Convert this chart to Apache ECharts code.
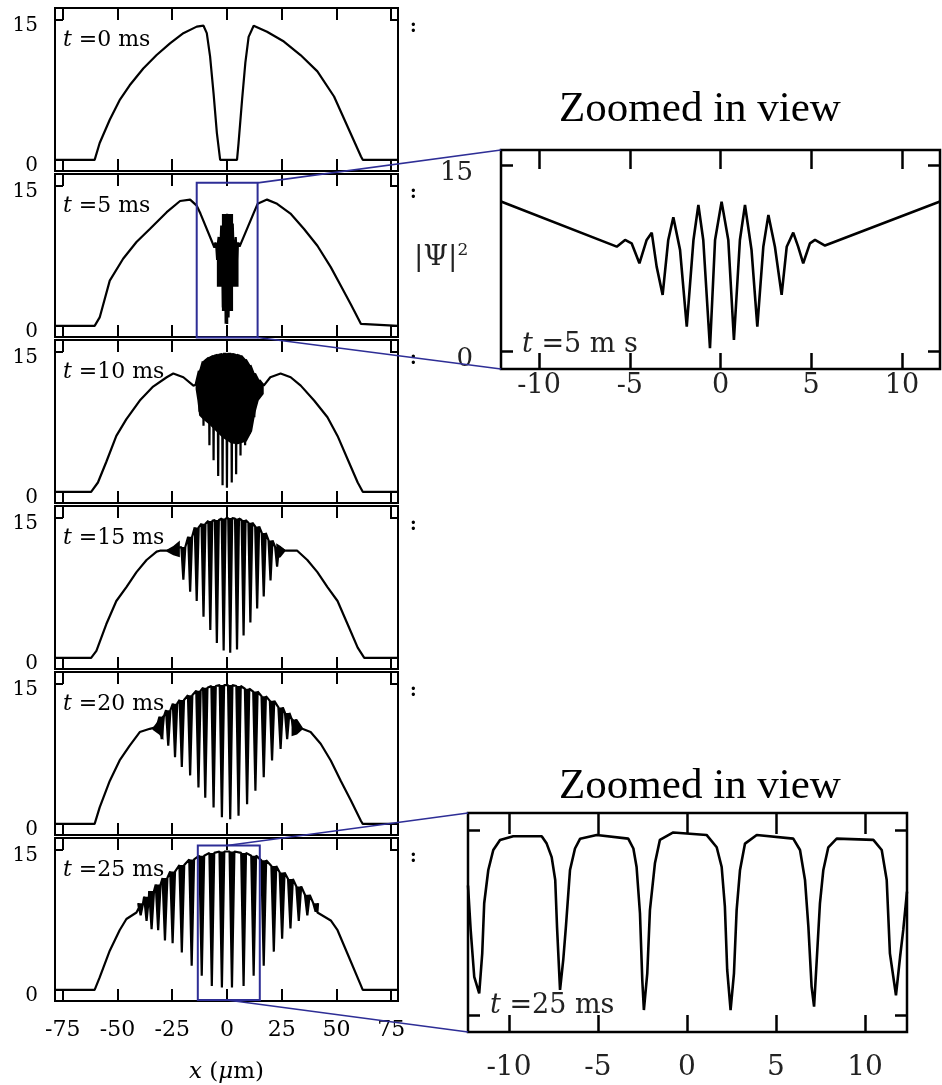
<!DOCTYPE html>
<html><head><meta charset="utf-8">
<script src="https://cdn.jsdelivr.net/npm/echarts@6/dist/echarts.min.js"></script>
<style>html,body{margin:0;padding:0;background:#fff}#c{width:942px;height:1085px}</style>
</head><body><div id="c"></div>
<script>
// ================= DATA =================
const panelTimes = [0, 5, 10, 15, 20, 25];
const mainXTicks = [-75, -50, -25, 0, 25, 50, 75];
const mainYTicks = [0, 15];
const zoomXTicks = [-10, -5, 0, 5, 10];
const zoomYTicks = [0, 15];

// t = 0 ms  [x (um), |psi|^2]
const curve0 = [[-78.5,0],[-60.4,0],[-58.1,1.8],[-53.5,4.3],[-49,6.4],[-44.4,8.0],[-38.2,9.8],[-32.1,11.25],[-26,12.5],[-19.9,13.6],[-13.8,14.3],[-10.7,14.4],[-9.2,13.6],[-7.7,11.1],[-6.1,7.1],[-4.6,2.9],[-3.1,0],[4.6,0],[5.3,1.8],[6.9,6.4],[8.4,10.4],[9.9,13.2],[12.2,14.4],[18.3,13.75],[26,12.7],[33.6,11.25],[41.3,9.5],[48.9,6.8],[55,3.6],[61.2,0.35],[62,0],[78.1,0]];

// t = 5 ms
const left5 = [[-78.5,0],[-60.4,0],[-58.1,0.9],[-53.5,4.85],[-47.4,7.2],[-41.3,9.0],[-35.2,10.4],[-27.5,12.2],[-21.4,13.4],[-16.8,13.55],[-13.8,12.9]];
const zoom5 = [[-12.1,12.05],[-5.72,8.41],[-5.26,8.95],[-4.9,8.68],[-4.47,7.07],[-4.07,8.95],[-3.79,9.54],[-3.52,6.8],[-3.19,4.52],[-2.88,8.95],[-2.6,10.78],[-2.23,8.15],[-1.86,1.96],[-1.49,8.95],[-1.22,11.77],[-0.95,8.95],[-0.58,0.22],[-0.3,8.95],[0.06,12.04],[0.43,8.95],[0.74,0.89],[1.07,8.95],[1.35,11.77],[1.71,8.15],[2.03,1.96],[2.36,8.4],[2.64,10.97],[3.0,8.4],[3.37,4.52],[3.65,8.4],[4.01,9.54],[4.28,8.41],[4.56,7.07],[4.93,8.68],[5.21,8.95],[5.76,8.5],[12.1,12.05]];
const right5 = [[14.0,13.1],[18.3,13.55],[22.9,13.1],[29.0,12.05],[35.2,10.4],[41.3,8.6],[47.4,6.3],[52,4.3],[56.6,2.3],[61.2,0.2],[62,0],[78.1,0]];
const blob5 = [[-2.3,12.0],[2.8,12.0],[2.8,9.3],[5.3,8.8],[5.3,4.2],[2.8,4.2],[2.8,1.6],[0.6,1.6],[0.6,0.2],[-0.4,0.2],[-0.4,1.6],[-2.3,1.6],[-2.3,4.2],[-4.6,4.2],[-4.6,8.8],[-2.3,9.3]];

// t = 10 ms
const left10 = [[-78.5,0],[-62,0],[-58.9,1.0],[-55.1,3.2],[-50.5,6.0],[-45.9,7.8],[-39.8,9.8],[-33.7,11.3],[-27.5,12.3],[-24.5,12.7],[-19.9,12.3],[-15.3,11.4],[-14.3,11.5]];
// dips: [x, top, bottom]
const dips10 = [[-12.5,13.0,8.6],[-10.7,14.0,7.1],[-8.0,14.4,5.0],[-6.1,14.6,3.4],[-4.0,14.7,1.7],[-2.0,14.8,0.7],[0.0,14.8,0.45],[2.2,14.8,1.0],[4.2,14.7,1.9],[6.2,14.6,3.9],[8.3,14.2,5.0],[10.4,13.6,6.2],[12.5,12.7,8.0],[14.6,12.0,10.0]];
const right10 = [[16.8,11.4],[19.8,12.3],[24.5,12.7],[29.1,12.3],[33.7,11.4],[39.8,9.8],[45.9,8.0],[50.5,6.0],[55.1,3.5],[59.7,1.0],[62,0],[78.1,0]];
const blob10 = [[-14.3,11.5],[-13.5,12.4],[-12.3,13.2],[-10.5,14.0],[-8,14.5],[-4,14.75],[0,14.85],[3,14.85],[6,14.6],[9,14.1],[11,13.4],[12.5,12.7],[14,12.1],[16.8,11.6],[16.8,10.5],[14.5,9.8],[13,8.5],[11.5,6.5],[9,5.4],[5,5.1],[2,5.2],[-2,5.8],[-5,6.5],[-8,7.2],[-11,7.8],[-12.7,8.2],[-13.5,9.8],[-14.3,11.0]];

// t = 15 ms
const left15 = [[-78.5,0],[-62,0],[-59.6,0.75],[-55.1,3.6],[-50.5,6.1],[-45.9,7.6],[-41.3,9.2],[-36.7,10.5],[-32.1,11.4],[-30.6,11.5],[-27.5,11.5]];
const dips15 = [[-19.9,11.9,8.4],[-16.8,13.0,7.1],[-13.8,14.0,6.1],[-10.7,14.4,4.4],[-7.6,14.7,3.0],[-4.6,14.8,1.6],[-1.5,14.95,0.8],[1.5,15.0,0.55],[4.6,14.95,0.9],[7.6,14.8,2.4],[10.7,14.5,3.8],[13.8,14.1,5.3],[16.8,13.4,6.6],[19.9,12.6,8.3],[22.9,11.9,9.8]];
const right15 = [[26.5,11.5],[32.1,11.5],[36.7,10.5],[41.3,9.2],[45.9,7.6],[50.5,6.1],[55.1,3.6],[59.7,1.1],[62.7,0],[78.1,0]];
const wedge15L = [[-27.5,11.6],[-24.5,12.0],[-21.5,12.6],[-21.5,10.8],[-24.5,11.0],[-27.5,11.4]];
const wedge15R = [[22.5,12.3],[24.5,12.0],[26.5,11.6],[26.5,11.4],[24.5,10.8],[22.5,10.6]];

// t = 20 ms
const left20 = [[-78.5,0],[-60.4,0],[-58.1,1.76],[-53.5,4.6],[-49,6.8],[-44.4,8.4],[-39.8,9.85],[-35.2,10.2],[-32.1,10.4]];
const dips20 = [[-29.8,11.5,9.1],[-26.8,12.2,8.4],[-23.7,12.9,7.15],[-20.6,13.3,6.1],[-16.8,13.8,5.2],[-13.0,14.3,3.9],[-9.9,14.6,2.8],[-6.1,14.8,1.76],[-2.3,14.9,0.7],[1.5,14.9,0.5],[5.3,14.8,0.86],[9.2,14.5,2.1],[13.0,14.2,3.56],[16.8,13.7,5.0],[20.6,13.2,6.8],[24.5,12.5,8.05],[27.5,11.9,9.1],[30.6,11.2,9.85]];
const right20 = [[34.4,10.2],[38.2,9.85],[42.8,8.6],[47.4,6.8],[52,4.6],[56.6,2.5],[61.2,0.3],[62,0],[78.1,0]];
const wedge20L = [[-34,10.3],[-31,11.2],[-29,11.7],[-29,9.0],[-31,9.6],[-34,10.1]];
const wedge20R = [[29.5,11.4],[32,10.9],[34.4,10.3],[34.4,10.1],[32,9.6],[29.5,9.4]];

// t = 25 ms
const left25 = [[-78.5,0],[-60.4,0],[-58.1,1.33],[-53.5,4.2],[-49,6.4],[-45.9,7.6],[-41.3,8.3],[-40.2,8.8]];
const dips25 = [[-39.4,9.3,8.0],[-36.7,10.0,7.4],[-34.4,10.6,6.5],[-31.4,11.3,6.4],[-28.3,12.0,5.3],[-24.8,12.7,5.0],[-20.6,13.4,4.0],[-16.1,14.0,2.6],[-11.5,14.4,1.5],[-6.9,14.7,0.4],[-2.3,14.85,0.25],[2.3,14.85,0.25],[7.6,14.7,0.4],[12.2,14.4,1.5],[16.8,13.9,2.6],[21.4,13.3,4.1],[25.2,12.6,5.5],[29.0,11.9,6.6],[32.8,11.1,7.4],[36.7,10.2,8.0],[40.5,9.3,8.4]];
const right25 = [[41.3,8.3],[47.4,7.45],[50.5,6.4],[55,3.9],[61.2,0.45],[62,0],[78.1,0]];
const zoom25 = [[-12.3,10.5],[-12.15,6.9],[-11.95,3.1],[-11.67,1.76],[-11.5,5.0],[-11.39,9.06],[-11.16,11.76],[-10.88,13.38],[-10.5,14.19],[-9.76,14.5],[-8.16,14.5],[-7.88,13.9],[-7.6,12.8],[-7.4,10.95],[-7.3,7.17],[-7.13,2.03],[-6.95,4.46],[-6.8,7.17],[-6.57,11.76],[-6.29,13.5],[-6.0,14.3],[-5.07,14.6],[-3.3,14.3],[-3.01,13.5],[-2.83,12.0],[-2.64,8.25],[-2.51,2.84],[-2.42,0.4],[-2.23,3.38],[-2.08,8.5],[-1.8,12.3],[-1.52,14.2],[-0.77,14.8],[1.1,14.6],[1.67,13.6],[1.95,12.0],[2.13,8.78],[2.26,3.65],[2.45,0.4],[2.64,3.38],[2.79,8.5],[2.98,11.76],[3.26,13.9],[3.92,14.6],[5.97,14.3],[6.35,13.38],[6.63,10.95],[6.82,7.17],[7.0,2.3],[7.14,0.68],[7.29,4.46],[7.47,9.06],[7.66,11.76],[7.94,13.6],[8.41,14.3],[10.47,14.2],[10.94,13.38],[11.22,10.95],[11.4,5.0],[11.59,3.1],[11.74,1.6],[11.97,4.7],[12.15,6.9],[12.36,10.0]];

// zoom boxes in the main panels [xmin, xmax, ymin, ymax]
const box5 = [-13.8, 14.0, -1.26, 15.35];
const box25 = [-13.3, 15.0, -1.1, 15.5];

// ================= BUILD =================
function dipPath(dips, hw) {
  const out = [];
  dips.forEach(d => { out.push([d[0] - hw, d[1]], [d[0], d[2]], [d[0] + hw, d[1]]); });
  return out;
}
const dipHW = [0, 0, 0.3, 0.9, 1.0, 1.1];
const panelDips = [null, null, dips10, dips15, dips20, dips25];
const panelCurves = [
  curve0,
  left5.concat(zoom5, right5),
  left10.concat(dipPath(dips10, dipHW[2]), right10),
  left15.concat(dipPath(dips15, dipHW[3]), right15),
  left20.concat(dipPath(dips20, dipHW[4]), right20),
  left25.concat(dipPath(dips25, dipHW[5]), right25)
];
const panelPolys = [[], [blob5], [blob10], [wedge15L, wedge15R], [wedge20L, wedge20R], []];

const SERIF = '"DejaVu Serif", serif';
const BLUE = '#2e2e96';
const mainX = [-78.5, 78.1], mainY = [-1.2, 16.3];
const PT = i => 8 + 166 * i;

const grids = [], xAxes = [], yAxes = [], series = [];
function addGrid(box, xr, yr, xt, yt, o) {
  const g = grids.length;
  grids.push({ left: box[0], top: box[1], width: box[2], height: box[3], show: true,
    borderColor: '#000', borderWidth: o.bw, backgroundColor: 'transparent', containLabel: false, outerBoundsMode: 'none' });
  const tickStyle = { color: '#000', width: o.tw };
  const xa = (pos, len, lab, nm) => ({ type: 'value', gridIndex: g, position: pos, min: xr[0], max: xr[1],
    axisLine: { show: false, onZero: false }, splitLine: { show: false },
    axisTick: { show: true, inside: true, length: len, customValues: xt, lineStyle: tickStyle },
    axisLabel: lab ? Object.assign({ show: true, customValues: xt }, lab) : { show: false },
    name: nm ? o.xName : '', nameLocation: 'middle', nameGap: o.xNameGap || 0, nameTextStyle: o.xNameStyle || {} });
  xAxes.push(xa('bottom', o.xtB, o.xLab, true));
  xAxes.push(xa('top', o.xtT, null, false));
  const ya = (pos, lab) => ({ type: 'value', gridIndex: g, position: pos, min: yr[0], max: yr[1],
    axisLine: { show: false, onZero: false }, splitLine: { show: false },
    axisTick: { show: true, inside: true, length: o.yt, customValues: yt, lineStyle: tickStyle },
    axisLabel: lab ? Object.assign({ show: true, customValues: yt }, lab) : { show: false } });
  yAxes.push(ya('left', o.yLab));
  yAxes.push(ya('right', null));
  return g;
}
function addCurve(g, data, w) {
  series.push({ type: 'line', xAxisIndex: 2 * g, yAxisIndex: 2 * g, data: data, showSymbol: false, symbol: 'none',
    lineStyle: { color: '#000', width: w }, animation: false, silent: true, z: 3, clip: true });
}
function addPoly(g, poly) {
  series.push({ type: 'custom', xAxisIndex: 2 * g, yAxisIndex: 2 * g, data: [[0, 0]], animation: false, silent: true, z: 3,
    renderItem: (p, api) => ({ type: 'polygon', shape: { points: poly.map(q => api.coord(q)) }, style: { fill: '#000' } }) });
}
function addDipFill(g, dips, hw) {
  series.push({ type: 'custom', xAxisIndex: 2 * g, yAxisIndex: 2 * g, data: dips, animation: false, silent: true, z: 3,
    encode: { x: 0, y: [1, 2] },
    renderItem: (p, api) => {
      const x = api.value(0), t = api.value(1), b = api.value(2);
      return { type: 'polygon', shape: { points: [api.coord([x - hw, t]), api.coord([x, b]), api.coord([x + hw, t])] }, style: { fill: '#000' } };
    } });
}

const leftLab = { fontFamily: SERIF, fontSize: 20, color: '#000', margin: 17, verticalAlign: 'top', lineHeight: 12 };
for (let i = 0; i < 6; i++) {
  const last = i === 5;
  const g = addGrid([55, PT(i), 343, 163], mainX, mainY, mainXTicks, mainYTicks, {
    bw: 2, tw: 2, xtB: 12, xtT: 12, yt: 8,
    yLab: leftLab,
    xLab: last ? { fontFamily: SERIF, fontSize: 22, color: '#000', margin: 18 } : null,
    xName: last ? '{i|x} ({i|\u03bc}m)' : '', xNameGap: 60,
    xNameStyle: { fontFamily: SERIF, fontSize: 23, color: '#000', rich: { i: { fontFamily: SERIF, fontStyle: 'italic', fontSize: 23 } } }
  });
  addCurve(g, panelCurves[i], 2.2);
  panelPolys[i].forEach(p => addPoly(g, p));
  if (panelDips[i] && i >= 3) addDipFill(g, panelDips[i], dipHW[i]);
}
const gZ1 = addGrid([501, 150, 439, 219], [-12.1, 12.1], [-1.45, 16.2], zoomXTicks, zoomYTicks, {
  bw: 2.5, tw: 2.5, xtB: 16, xtT: 19, yt: 12,
  yLab: { fontFamily: SERIF, fontSize: 26, color: '#222', margin: 28, verticalAlign: 'top', lineHeight: 16 },
  xLab: { fontFamily: SERIF, fontSize: 27, color: '#222', margin: 3 }
});
addCurve(gZ1, zoom5, 2.6);
const gZ2 = addGrid([468, 813, 439, 219], [-12.3, 12.36], [-1.38, 16.38], zoomXTicks, zoomYTicks, {
  bw: 2.5, tw: 2.5, xtB: 17, xtT: 21, yt: 12,
  yLab: null,
  xLab: { fontFamily: SERIF, fontSize: 28, color: '#222', margin: 22 }
});
addCurve(gZ2, zoom25, 2.6);

const chart = echarts.init(document.getElementById('c'));
chart.setOption({ animation: false, grid: grids, xAxis: xAxes, yAxis: yAxes, series: series });

// ---------- annotations ----------
const px = (g, pt) => chart.convertToPixel({ xAxisIndex: 2 * g, yAxisIndex: 2 * g }, pt);
const gfx = [];
const richI = { i: { fontFamily: SERIF, fontStyle: 'italic', fontSize: 22, fill: '#000' } };
for (let i = 0; i < 6; i++) {
  gfx.push({ type: 'text', x: 63, y: PT(i) + 32, z: 1, style: { text: '{i|t} =' + panelTimes[i] + ' ms', font: '22px ' + SERIF,
    fill: '#000', textVerticalAlign: 'middle', rich: richI } });
  gfx.push({ type: 'text', x: 410, y: PT(i) + 19, z: 1, style: { text: ':', font: 'bold 18px ' + SERIF, fill: '#000', textVerticalAlign: 'middle' } });
}
gfx.push({ type: 'text', x: 700, y: 110, style: { text: 'Zoomed in view', font: '43px "Liberation Serif", serif', fill: '#000', textAlign: 'center', textVerticalAlign: 'middle' } });
gfx.push({ type: 'text', x: 700, y: 787, style: { text: 'Zoomed in view', font: '43px "Liberation Serif", serif', fill: '#000', textAlign: 'center', textVerticalAlign: 'middle' } });
gfx.push({ type: 'text', x: 414, y: 258, style: { text: '|\u03a8|{s|2}', font: '28px ' + SERIF, fill: '#222', textVerticalAlign: 'middle',
  rich: { s: { fontSize: 17, fontFamily: SERIF, fill: '#222', padding: [0, 0, 14, 0] } } } });
const riZ = { i: { fontFamily: SERIF, fontStyle: 'italic', fontSize: 27, fill: '#222' } };
gfx.push({ type: 'text', x: 522, y: 345, z: 1, style: { text: '{i|t} =5 m s', font: '27px ' + SERIF, fill: '#222', textVerticalAlign: 'middle', rich: riZ } });
gfx.push({ type: 'text', x: 490, y: 1006, z: 1, style: { text: '{i|t} =25 ms', font: '27px ' + SERIF, fill: '#222', textVerticalAlign: 'middle', rich: riZ } });

function rectOf(g, b) {
  const a = px(g, [b[0], b[3]]), c = px(g, [b[1], b[2]]);
  return { type: 'rect', z: 50, shape: { x: a[0], y: a[1], width: c[0] - a[0], height: c[1] - a[1] },
    style: { fill: 'none', stroke: BLUE, lineWidth: 2 } };
}
function lineOf(p1, p2) {
  return { type: 'line', z: 60, shape: { x1: p1[0], y1: p1[1], x2: p2[0], y2: p2[1] }, style: { stroke: BLUE, lineWidth: 1.6 } };
}
gfx.push(rectOf(1, box5));
gfx.push(rectOf(5, box25));
gfx.push(lineOf(px(1, [box5[1], box5[3]]), px(gZ1, [-12.1, 16.2])));
gfx.push(lineOf(px(1, [box5[1], box5[2]]), px(gZ1, [-12.1, -1.45])));
gfx.push(lineOf(px(5, [0, box25[3]]), px(gZ2, [-12.3, 16.38])));
gfx.push(lineOf(px(5, [0, box25[2]]), px(gZ2, [-12.3, -1.38])));
chart.setOption({ graphic: { elements: gfx } });
</script>
</body></html>
